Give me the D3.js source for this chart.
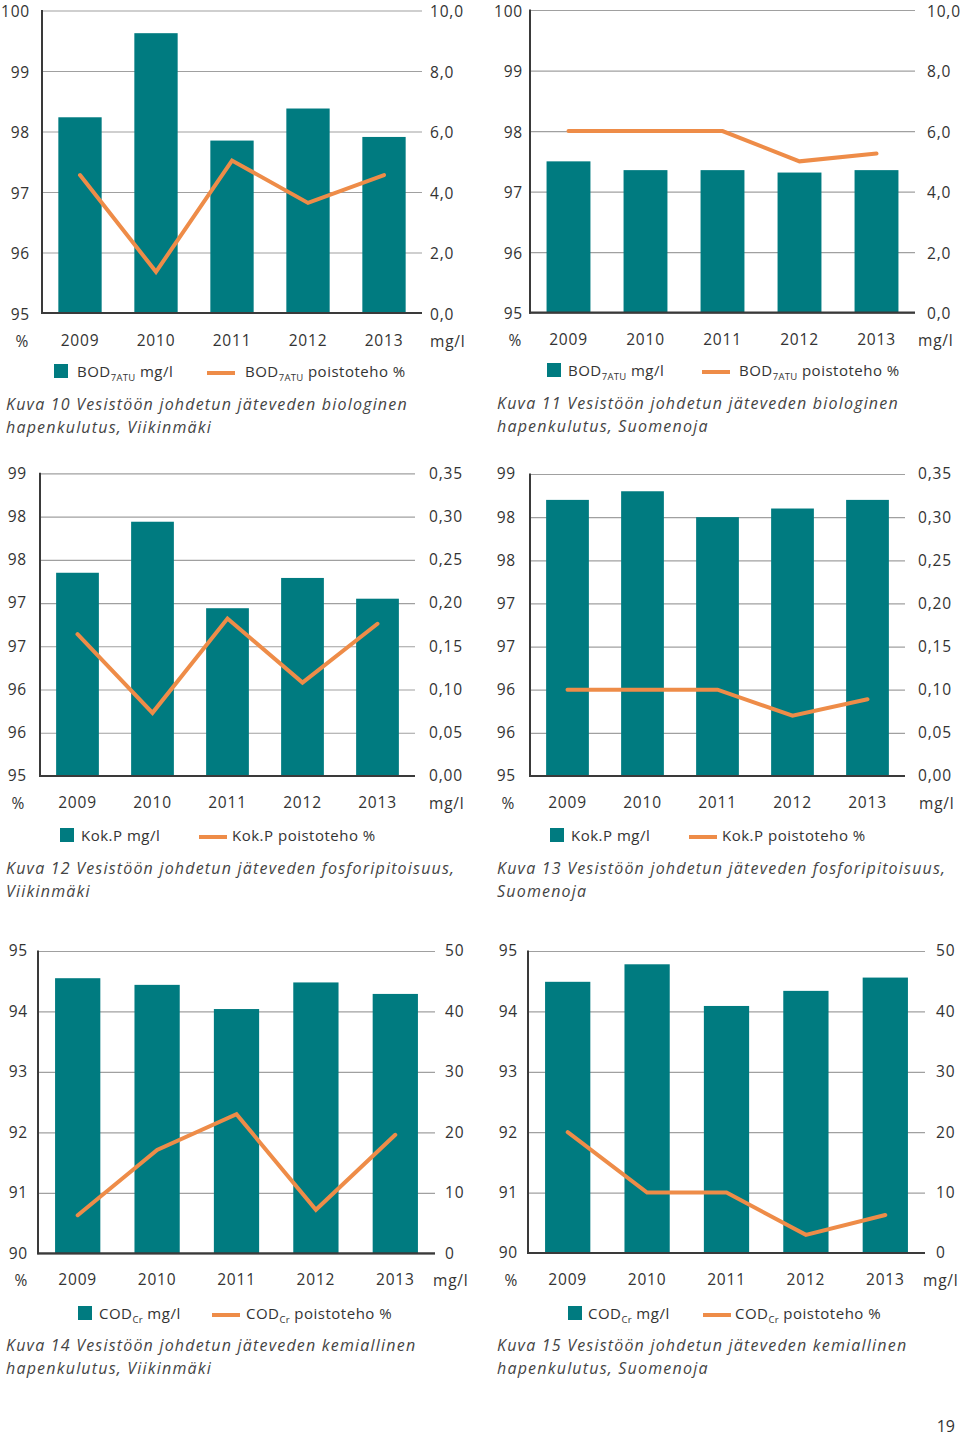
<!DOCTYPE html>
<html>
<head>
<meta charset="utf-8">
<script src="https://cdn.jsdelivr.net/npm/d3@7"></script>
<style>
  html, body { margin: 0; padding: 0; background: #ffffff; }
  svg text { font-family: "Open Sans", "DejaVu Sans", sans-serif; fill: #333333; }
</style>
</head>
<body>
<svg id="chart" width="960" height="1436"></svg>
<script>
// ---------- data ----------
const years = ["2009", "2010", "2011", "2012", "2013"];

const bodViikinmakiMgl = [6.47, 9.25, 5.70, 6.76, 5.82];
const bodViikinmakiPct = [97.28, 95.68, 97.52, 96.82, 97.28];
const bodSuomenojaMgl = [5.00, 4.71, 4.71, 4.63, 4.71];
const bodSuomenojaPct = [98.0, 98.0, 98.0, 97.5, 97.63];

const pViikinmakiMgl = [0.235, 0.294, 0.194, 0.229, 0.205];
const pViikinmakiPct = [96.64, 95.73, 96.82, 96.08, 96.76];
const pSuomenojaMgl = [0.32, 0.33, 0.30, 0.31, 0.32];
const pSuomenojaPct = [96.0, 96.0, 96.0, 95.7, 95.89];

const codViikinmakiMgl = [45.5, 44.4, 40.4, 44.8, 42.9];
const codViikinmakiPct = [90.63, 91.71, 92.30, 90.72, 91.96];
const codSuomenojaMgl = [44.9, 47.8, 40.9, 43.4, 45.6];
const codSuomenojaPct = [92.0, 91.0, 91.0, 90.30, 90.63];

const bodPctTickValues = [95, 96, 97, 98, 99, 100];
const bodPctTickLabels = ["95", "96", "97", "98", "99", "100"];
const bodMglTickValues = [0, 2, 4, 6, 8, 10];
const bodMglTickLabels = ["0,0", "2,0", "4,0", "6,0", "8,0", "10,0"];

const pPctTickValues = [95, 95.5, 96, 96.5, 97, 97.5, 98, 98.5];
const pPctTickLabels = ["95", "96", "96", "97", "97", "98", "98", "99"];
const pMglTickValues = [0, 0.05, 0.10, 0.15, 0.20, 0.25, 0.30, 0.35];
const pMglTickLabels = ["0,00", "0,05", "0,10", "0,15", "0,20", "0,25", "0,30", "0,35"];

const codPctTickValues = [90, 91, 92, 93, 94, 95];
const codPctTickLabels = ["90", "91", "92", "93", "94", "95"];
const codMglTickValues = [0, 10, 20, 30, 40, 50];
const codMglTickLabels = ["0", "10", "20", "30", "40", "50"];

const captions = [
  ["Kuva 10 Vesistöön johdetun jäteveden biologinen", "hapenkulutus, Viikinmäki"],
  ["Kuva 11 Vesistöön johdetun jäteveden biologinen", "hapenkulutus, Suomenoja"],
  ["Kuva 12 Vesistöön johdetun jäteveden fosforipitoisuus,", "Viikinmäki"],
  ["Kuva 13 Vesistöön johdetun jäteveden fosforipitoisuus,", "Suomenoja"],
  ["Kuva 14 Vesistöön johdetun jäteveden kemiallinen", "hapenkulutus, Viikinmäki"],
  ["Kuva 15 Vesistöön johdetun jäteveden kemiallinen", "hapenkulutus, Suomenoja"]
];

// legend label parts: [main, subscript, rest]
const bodLegendBar = ["BOD", "7ATU", " mg/l"];
const bodLegendLine = ["BOD", "7ATU", " poistoteho %"];
const pLegendBar = ["Kok.P mg/l", "", ""];
const pLegendLine = ["Kok.P poistoteho %", "", ""];
const codLegendBar = ["COD", "Cr", " mg/l"];
const codLegendLine = ["COD", "Cr", " poistoteho %"];

// ---------- styles ----------
const TEAL = "#007b80";
const ORANGE = "#ee8c48";
const GRID = "#a0a0a0";
const AXIS = "#3a3a3a";

const svg = d3.select("#chart");

const panels = [
  { mgl: bodViikinmakiMgl, pct: bodViikinmakiPct, pctDom: [95, 100], mglDom: [0, 10],
    pctTV: bodPctTickValues, pctTL: bodPctTickLabels, mglTV: bodMglTickValues, mglTL: bodMglTickLabels,
    legBar: bodLegendBar, legLine: bodLegendLine, cap: captions[0], topRow: true,
    ax: 42, gx: 422, top: 10.5, bot: 313, lLab: 30, rLab: 430, yearY: 341, pctX: 22, mglX: 430,
    legY: 371, sqX: 54, t1X: 77, lnX: 207, t2X: 245, capX: 6, capY: 410 },
  { mgl: bodSuomenojaMgl, pct: bodSuomenojaPct, pctDom: [95, 100], mglDom: [0, 10],
    pctTV: bodPctTickValues, pctTL: bodPctTickLabels, mglTV: bodMglTickValues, mglTL: bodMglTickLabels,
    legBar: bodLegendBar, legLine: bodLegendLine, cap: captions[1], topRow: true,
    ax: 530, gx: 915, top: 10, bot: 312.7, lLab: 523, rLab: 927, yearY: 340, pctX: 515, mglX: 918,
    legY: 370, sqX: 547, t1X: 568, lnX: 702, t2X: 739, capX: 497, capY: 409 },
  { mgl: pViikinmakiMgl, pct: pViikinmakiPct, pctDom: [95, 98.5], mglDom: [0, 0.35],
    pctTV: pPctTickValues, pctTL: pPctTickLabels, mglTV: pMglTickValues, mglTL: pMglTickLabels,
    legBar: pLegendBar, legLine: pLegendLine, cap: captions[2],
    ax: 40, gx: 415, top: 473.3, bot: 776, lLab: 27, rLab: 429, yearY: 803, pctX: 18, mglX: 429,
    legY: 835, sqX: 60, t1X: 81, lnX: 199, t2X: 232, capX: 6, capY: 874 },
  { mgl: pSuomenojaMgl, pct: pSuomenojaPct, pctDom: [95, 98.5], mglDom: [0, 0.35],
    pctTV: pPctTickValues, pctTL: pPctTickLabels, mglTV: pMglTickValues, mglTL: pMglTickLabels,
    legBar: pLegendBar, legLine: pLegendLine, cap: captions[3],
    ax: 530, gx: 905, top: 474, bot: 776, lLab: 516, rLab: 918, yearY: 803, pctX: 508, mglX: 919,
    legY: 835, sqX: 550, t1X: 571, lnX: 689, t2X: 722, capX: 497, capY: 874 },
  { mgl: codViikinmakiMgl, pct: codViikinmakiPct, pctDom: [90, 95], mglDom: [0, 50],
    pctTV: codPctTickValues, pctTL: codPctTickLabels, mglTV: codMglTickValues, mglTL: codMglTickLabels,
    legBar: codLegendBar, legLine: codLegendLine, cap: captions[4],
    ax: 38, gx: 435, top: 951, bot: 1253.3, lLab: 28, rLab: 445, yearY: 1280, pctX: 21, mglX: 433,
    legY: 1313, sqX: 78, t1X: 99, lnX: 212, t2X: 246, capX: 6, capY: 1351 },
  { mgl: codSuomenojaMgl, pct: codSuomenojaPct, pctDom: [90, 95], mglDom: [0, 50],
    pctTV: codPctTickValues, pctTL: codPctTickLabels, mglTV: codMglTickValues, mglTL: codMglTickLabels,
    legBar: codLegendBar, legLine: codLegendLine, cap: captions[5],
    ax: 528, gx: 925, top: 951, bot: 1253, lLab: 518, rLab: 936, yearY: 1280, pctX: 511, mglX: 923,
    legY: 1313, sqX: 568, t1X: 588, lnX: 703, t2X: 735, capX: 497, capY: 1351 }
];

function legendText(g, x, y, parts) {
  const t = g.append("text").attr("x", x).attr("y", y + 6)
    .attr("font-size", 15).attr("letter-spacing", "0.5px");
  t.append("tspan").text(parts[0]);
  if (parts[1]) {
    t.append("tspan").attr("dy", 4).attr("font-size", 9.5).attr("letter-spacing", "0.3px").text(parts[1]);
    t.append("tspan").attr("dy", -4).text(parts[2]);
  }
}

panels.forEach(p => {
  const g = svg.append("g");
  const x = d3.scaleBand().domain(years).range([p.ax, p.gx]).padding(0);
  const yL = d3.scaleLinear().domain(p.pctDom).range([p.bot, p.top]);
  const yR = d3.scaleLinear().domain(p.mglDom).range([p.bot, p.top]);
  const bw = x.bandwidth() * 0.57;
  const labDy = p.topRow ? "0.40em" : "0.32em";

  // gridlines
  const grid = g.append("g").attr("transform", `translate(${p.ax},0)`)
    .call(d3.axisRight(yL).tickValues(p.pctTV).tickSize(p.gx - p.ax).tickFormat(""));
  grid.select(".domain").remove();
  grid.selectAll("line").attr("stroke", GRID).attr("stroke-width", 1.2);

  // bars
  g.selectAll("rect.bar").data(p.mgl).join("rect")
    .attr("class", "bar")
    .attr("x", (d, i) => x(years[i]) + (x.bandwidth() - bw) / 2)
    .attr("width", bw)
    .attr("y", d => yR(d))
    .attr("height", d => yR(p.mglDom[0]) - yR(d))
    .attr("fill", TEAL);

  // axis lines
  g.append("line").attr("x1", p.ax).attr("x2", p.ax).attr("y1", p.top - 0.5).attr("y2", p.bot + 1)
    .attr("stroke", AXIS).attr("stroke-width", 2);
  g.append("line").attr("x1", p.ax - 1).attr("x2", p.gx).attr("y1", p.bot).attr("y2", p.bot)
    .attr("stroke", AXIS).attr("stroke-width", 2.2);

  // line series
  const line = d3.line().x((d, i) => x(years[i]) + x.bandwidth() / 2).y(d => yL(d));
  g.append("path").datum(p.pct).attr("d", line)
    .attr("fill", "none").attr("stroke", ORANGE).attr("stroke-width", 4)
    .attr("stroke-linejoin", "miter").attr("stroke-linecap", "round");

  // left tick labels
  const la = g.append("g").attr("transform", `translate(${p.lLab},0)`)
    .call(d3.axisLeft(yL).tickValues(p.pctTV).tickSize(0).tickPadding(0)
      .tickFormat((d, i) => p.pctTL[i]));
  la.select(".domain").remove();
  la.selectAll("text").attr("font-size", 15.5).attr("letter-spacing", "0.8px").attr("dy", labDy)
    .attr("fill", "#333").attr("font-family", "'Open Sans', sans-serif");

  // right tick labels
  const ra = g.append("g").attr("transform", `translate(${p.rLab},0)`)
    .call(d3.axisRight(yR).tickValues(p.mglTV).tickSize(0).tickPadding(0)
      .tickFormat((d, i) => p.mglTL[i]));
  ra.select(".domain").remove();
  ra.selectAll("text").attr("font-size", 15.5).attr("letter-spacing", "0.8px").attr("dy", labDy)
    .attr("fill", "#333").attr("font-family", "'Open Sans', sans-serif");

  // year labels
  const xa = g.append("g").attr("transform", `translate(0,${p.yearY})`)
    .call(d3.axisBottom(x).tickSize(0).tickPadding(0));
  xa.select(".domain").remove();
  xa.selectAll("text").attr("font-size", 15.5).attr("letter-spacing", "0.8px")
    .attr("dy", "0.35em").attr("fill", "#333").attr("font-family", "'Open Sans', sans-serif");

  // unit labels
  g.append("text").attr("x", p.pctX).attr("y", p.yearY).attr("dy", "0.38em")
    .attr("text-anchor", "middle").attr("font-size", 15.5).text("%");
  g.append("text").attr("x", p.mglX).attr("y", p.yearY).attr("dy", "0.38em")
    .attr("font-size", 15.5).attr("letter-spacing", "0.8px").text("mg/l");

  // legend
  g.append("rect").attr("x", p.sqX).attr("y", p.legY - 7).attr("width", 14).attr("height", 14).attr("fill", TEAL);
  legendText(g, p.t1X, p.legY, p.legBar);
  g.append("line").attr("x1", p.lnX).attr("x2", p.lnX + 28).attr("y1", p.legY + 2).attr("y2", p.legY + 2)
    .attr("stroke", ORANGE).attr("stroke-width", 4).attr("stroke-linecap", "butt");
  legendText(g, p.t2X, p.legY, p.legLine);

  // caption
  p.cap.forEach((c, i) => {
    g.append("text").attr("x", p.capX).attr("y", p.capY + i * 23)
      .attr("font-size", 16).attr("font-style", "italic").attr("letter-spacing", "1.2px")
      .style("fill", "#444").text(c);
  });
});

// page number
svg.append("text").attr("x", 955).attr("y", 1432).attr("text-anchor", "end")
  .attr("font-size", 16).text("19");
</script>
</body>
</html>
